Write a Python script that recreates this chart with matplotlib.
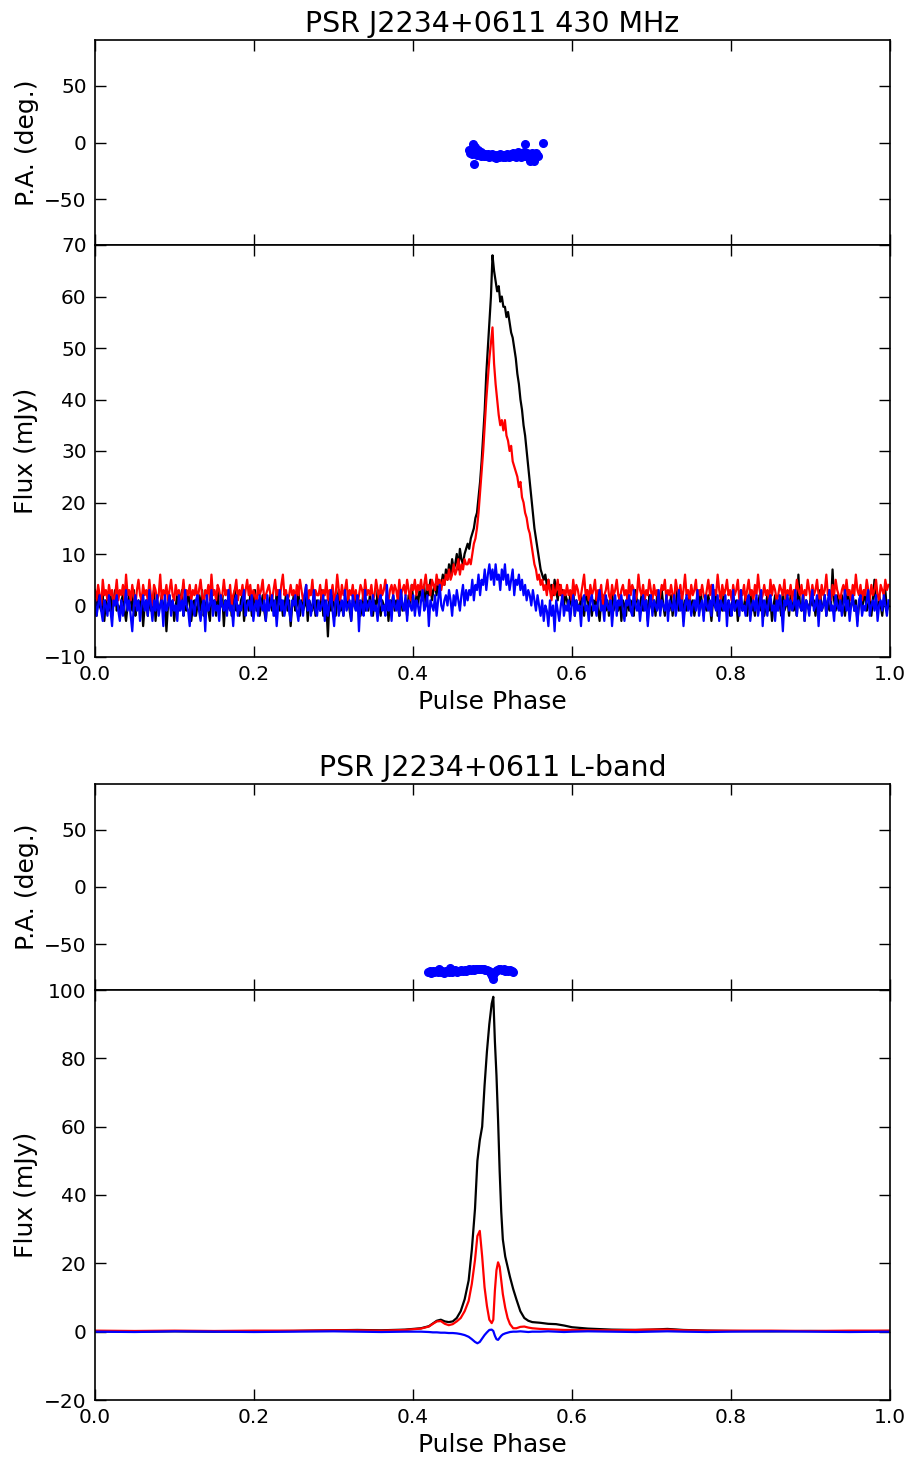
import numpy as np
import matplotlib
matplotlib.use("Agg")
import matplotlib.pyplot as plt

# ---------------- 430 MHz data (512 phase bins) ----------------
I_430 = [
    1, -2, 3, 0, -1, 2, -3, 1, 0, -1, 2, -2, 1, 3, -1, 0,
    -2, 1, 2, -1, -3, 0, 2, 1, -1, 3, -2, 0, 1, -1, 2, -4,
    0, 1, -2, 2, -1, 0, 3, -3, 1, -1, 0, 2, -2, 1, -5, 0,
    2, -1, 1, -3, 0, 2, -1, 1, 3, -2, 0, -1, 2, 1, -3, 0,
    1, -2, 0, 2, -1, 3, -2, 0, 1, -1, -3, 2, 0, 1, -2, 3,
    -1, 0, 2, -4, 1, -1, 0, 2, -2, 1, 3, -1, 0, -2, 1, 2,
    -3, 0, 1, -1, 2, -2, 0, 3, -1, 1, -2, 0, 2, -1, -3, 1,
    0, 2, -1, 1, -2, 3, 0, -1, 1, -2, 0, 2, -1, 1, -4, 0,
    2, -1, 0, 3, -2, 1, -1, 0, 2, -3, 1, 0, -1, 2, -2, 1,
    0, -1, 3, -2, 1, 0, -6, 1, -1, 2, 0, -2, 1, 3, -1, 0,
    -2, 1, 0, 2, -1, -3, 1, 0, 2, -1, 1, -2, 0, 3, -1, 1,
    -1, 2, 0, -2, 1, -1, 3, 0, -2, 1, 0, -1, 2, -3, 1, 0,
    2, -1, 1, 0, -2, 3, -1, 0, 1, -2, 2, 0, 4, 1, -1, 2,
    0, 3, 2, 1, 4, 0, 3, 2, 5, 1, 3, 4, 2, 5, 3, 4,
    6, 4, 7, 5, 8, 6, 9, 7, 8, 10, 7, 11, 9, 8, 10, 11,
    12, 11, 13, 14, 15, 17, 18, 21, 24, 28, 33, 38, 45, 50, 55, 60,
    68, 65, 63, 61, 62, 59, 60, 58, 58, 56, 57, 55, 53, 52, 50, 48,
    45, 43, 40, 38, 35, 33, 30, 27, 24, 21, 18, 15, 13, 11, 9, 7,
    6, 5, 6, 4, 5, 3, 4, 2, 5, 3, 1, 4, 2, 3, 0, 2,
    1, -1, 2, 0, 3, -2, 1, 0, -1, 2, 0, -2, 1, 3, -1, 0,
    -2, 1, 0, 2, -1, -3, 1, 0, 2, -1, 1, -2, 0, 3, -1, 1,
    0, -1, 2, -3, 1, 0, -2, 2, -1, 1, 0, -2, 3, 1, -1, 0,
    2, -1, 0, 1, -3, 2, 0, -1, 1, -2, 2, 0, -1, 3, 0, -2,
    1, 0, -1, 2, -2, 1, 0, 3, -1, 0, 2, -3, 1, -1, 0, 2,
    -1, 1, -2, 0, 2, -1, 3, 0, -2, 1, -1, 2, 0, -3, 1, 0,
    2, -2, 1, 0, -1, 3, -1, 0, 1, -2, 0, 2, -1, 1, -3, 0,
    1, -1, 0, 2, -2, 1, 3, -1, 0, -2, 1, 0, 2, -1, 1, -2,
    0, 2, -1, 1, -3, 0, 2, -1, 1, 0, -2, 3, -1, 0, 1, -2,
    2, 0, -1, 1, -2, 6, 0, -1, 2, -3, 1, 0, -1, 2, 0, 1,
    -2, 1, 0, 3, -1, 0, 2, -2, 1, -1, 0, 7, 1, -1, 2, 0,
    -1, 2, 0, -2, 1, 3, -1, 0, 2, -1, 1, -3, 0, 2, -1, 1,
    3, -1, 0, 2, -2, 1, 5, 0, -1, 2, 0, -2, 1, 3, -1, 0,
]
L_430 = [
    3, 1, 4, 2, 0, 5, 2, 3, 1, 4, 2, 3, 0, 2, 5, 1,
    3, 2, 4, 1, 6, 2, 3, 1, 4, 2, 0, 3, 5, 2, 1, 4,
    2, 3, 1, 5, 2, 0, 4, 3, 1, 2, 6, 1, 3, 2, 4, 1,
    3, 5, 2, 1, 4, 2, 3, 0, 2, 5, 1, 3, 2, 4, 1, 3,
    2, 4, 1, 3, 5, 2, 0, 3, 2, 4, 1, 6, 2, 3, 1, 4,
    3, 1, 2, 5, 2, 3, 1, 4, 0, 2, 3, 5, 1, 3, 2, 4,
    1, 3, 5, 2, 4, 1, 3, 2, 0, 4, 2, 3, 5, 1, 2, 3,
    4, 2, 1, 3, 5, 2, 3, 1, 4, 6, 2, 3, 1, 2, 4, 2,
    3, 1, 4, 2, 5, 3, 1, 2, 4, 0, 3, 2, 5, 1, 3, 2,
    2, 4, 1, 3, 2, 5, 1, 3, 2, 4, 1, 2, 6, 3, 1, 4,
    2, 3, 5, 1, 3, 2, 4, 1, 3, 0, 2, 4, 3, 1, 5, 2,
    3, 2, 4, 1, 2, 5, 3, 1, 4, 2, 3, 5, 2, 1, 3, 4,
    2, 4, 3, 1, 5, 2, 3, 4, 2, 5, 3, 1, 4, 3, 5, 2,
    4, 3, 5, 2, 4, 6, 3, 4, 2, 5, 4, 3, 6, 4, 5, 3,
    5, 4, 6, 5, 7, 5, 6, 8, 6, 7, 9, 6, 8, 7, 9, 8,
    8, 9, 8, 10, 12, 13, 15, 18, 22, 26, 30, 35, 40, 44, 48, 51,
    54, 47, 43, 40, 37, 35, 36, 34, 36, 33, 32, 30, 31, 28, 27, 26,
    25, 23, 24, 21, 20, 18, 17, 15, 14, 12, 10, 8, 7, 5, 6, 4,
    5, 3, 4, 2, 5, 3, 1, 4, 2, 3, 5, 2, 4, 1, 3, 2,
    4, 2, 3, 1, 5, 2, 4, 3, 1, 2, 4, 6, 2, 3, 1, 4,
    2, 3, 5, 1, 3, 2, 4, 0, 2, 3, 5, 2, 1, 4, 2, 3,
    5, 2, 1, 3, 4, 2, 3, 1, 5, 2, 4, 3, 1, 2, 6, 3,
    2, 4, 1, 3, 2, 5, 3, 1, 4, 2, 3, 0, 2, 4, 3, 5,
    1, 3, 2, 4, 2, 1, 5, 3, 2, 4, 1, 3, 6, 2, 3, 1,
    4, 2, 3, 5, 1, 3, 2, 4, 2, 1, 3, 5, 2, 4, 1, 3,
    2, 6, 3, 1, 4, 2, 3, 5, 2, 3, 1, 4, 2, 3, 5, 1,
    3, 2, 4, 1, 3, 5, 2, 3, 1, 4, 2, 6, 3, 1, 2, 4,
    2, 3, 1, 5, 2, 4, 3, 1, 2, 4, 3, 2, 5, 1, 3, 2,
    4, 1, 3, 2, 5, 3, 2, 4, 1, 3, 2, 5, 3, 1, 4, 2,
    3, 5, 2, 1, 4, 2, 3, 6, 2, 3, 1, 4, 2, 5, 3, 2,
    1, 3, 4, 2, 5, 2, 3, 1, 4, 2, 6, 3, 2, 4, 1, 3,
    2, 5, 3, 1, 4, 2, 3, 5, 2, 1, 4, 3, 2, 5, 3, 4,
]
V_430 = [
    1, -2, 0, 2, -1, -3, 1, 0, -2, 2, -1, -4, 1, 0, 2, -1,
    -3, 1, -2, 0, 3, -1, 1, -2, -5, 0, 2, -1, 1, -3, 0, 2,
    -1, 1, -2, 3, 0, -3, 1, -1, 2, -2, 0, 1, -4, 2, -1, 0,
    2, -2, 1, -1, 0, -3, 2, -1, 1, -2, 3, 0, -1, -4, 1, 0,
    -2, 1, 2, -1, -3, 0, 1, -5, 2, -1, 0, 3, -2, 1, -1, 0,
    -3, 2, 0, -1, 1, -2, 3, -1, 0, -4, 1, 2, -2, 0, -1, 1,
    3, -2, 0, 1, -1, 2, -3, 0, 1, -2, 2, 0, -1, 1, -3, 2,
    -1, 0, 2, -2, 1, -4, 0, 3, -1, 1, -2, 0, 2, -1, -3, 1,
    0, 2, -1, -3, 1, 0, -2, 2, 4, -1, 1, -2, 0, 3, -1, -2,
    1, -1, 0, 2, -3, 1, -2, 0, 3, -1, -4, 1, 2, -2, 0, 1,
    -2, 3, -1, 0, 1, -3, 2, 0, -1, 2, -5, 1, 0, -2, 3, -1,
    0, 1, -2, 2, -1, 0, -3, 1, 2, -1, 0, -2, 4, -1, 1, -3,
    2, 0, -1, 1, -2, 3, 0, -1, 2, -3, 1, 0, -1, 2, -2, 1,
    0, -2, 1, 3, -1, 0, 2, -4, 1, 0, -1, 2, -2, 1, 4, 0,
    -1, 1, 2, 0, 3, 1, -2, 2, 0, 3, 1, -1, 2, 4, 0, 3,
    1, 3, 2, 5, 1, 4, 3, 6, 2, 5, 4, 7, 3, 6, 8, 5,
    7, 4, 8, 5, 6, 3, 7, 5, 8, 4, 6, 3, 5, 7, 2, 5,
    4, 6, 3, 5, 2, 4, 1, 3, 2, 0, 3, 1, -1, 2, 0, -2,
    1, -3, 0, -1, -4, 1, -2, 0, -5, 1, -1, -3, 0, 2, -2, 0,
    -1, 1, -3, 0, 2, -2, 1, -1, 0, -4, 1, 2, -1, 0, -3, 1,
    2, -1, 0, -2, 1, 3, -1, 0, -3, 2, 0, -1, 1, -4, 0, 2,
    -2, 1, 0, 2, -1, -3, 1, 0, 2, -1, -2, 3, 0, -1, 1, -3,
    0, 2, -1, 1, -4, 0, 2, -2, 1, 0, -1, 3, -2, 1, 0, -1,
    2, -3, 1, 0, -1, 2, -2, 0, 3, -1, 1, -4, 0, 2, -1, 1,
    -2, 0, 1, -1, 3, -2, 0, 1, -3, 2, 0, -1, 1, -2, 4, 0,
    -1, 2, -3, 1, 0, -1, 2, -4, 1, 0, -2, 3, -1, 0, 1, -2,
    3, -1, 0, -2, 1, 2, -3, 0, 1, -1, 2, -2, 0, 3, -4, 1,
    0, -2, 1, 2, -1, 0, -3, 1, -1, 2, 0, -5, 1, 0, 2, -1,
    1, -1, 0, 3, -2, 1, 0, -1, 2, -3, 1, 0, -2, 1, 3, -1,
    0, 2, -4, 1, -1, 0, 2, -2, 1, 3, -1, 0, -3, 2, 0, -1,
    1, -2, 0, 3, -1, 1, -3, 0, 2, -1, 0, -4, 1, 2, -2, 0,
    -1, 1, 3, -2, 0, 1, -1, 2, -3, 0, 1, -1, 2, 0, -2, 1,
]
pa_phase_430 = [0.471, 0.472, 0.473, 0.474, 0.475, 0.476, 0.477, 0.478, 0.479, 0.480,
                0.481, 0.482, 0.483, 0.484, 0.485, 0.486, 0.487, 0.488, 0.489, 0.490,
                0.491, 0.492, 0.493, 0.494, 0.495, 0.496, 0.497, 0.498, 0.499, 0.500,
                0.501, 0.502, 0.503, 0.504, 0.505, 0.506, 0.507, 0.508, 0.509, 0.510,
                0.511, 0.512, 0.513, 0.514, 0.515, 0.516, 0.517, 0.518, 0.519, 0.520,
                0.521, 0.522, 0.523, 0.524, 0.525, 0.526, 0.527, 0.528, 0.529, 0.530,
                0.531, 0.532, 0.533, 0.534, 0.535, 0.536, 0.537, 0.538, 0.539, 0.540,
                0.541, 0.542, 0.543, 0.544, 0.545, 0.546, 0.547, 0.548, 0.549, 0.550,
                0.551, 0.552, 0.553, 0.554, 0.555, 0.556, 0.557, 0.563]
pa_430 = [-7, -9, -8, -10, -1, -6, -19, -4, -9, -8,
          -11, -7, -10, -9, -12, -8, -11, -10, -12, -11,
          -10, -12, -11, -10, -12, -13, -11, -12, -10, -11,
          -12, -13, -11, -12, -14, -12, -11, -13, -12, -10,
          -12, -11, -13, -12, -11, -13, -12, -10, -11, -12,
          -13, -11, -10, -12, -11, -9, -12, -10, -11, -13,
          -10, -8, -12, -11, -9, -13, -10, -12, -8, -11,
          -1, -12, -10, -9, -13, -11, -16, -10, -12, -9,
          -11, -16, -10, -12, -9, -11, -12, 0]

# ---------------- L-band data ----------------
phase_lb = [0.0, 0.05, 0.1, 0.15, 0.2, 0.25, 0.3, 0.33, 0.36, 0.39,
            0.41, 0.42, 0.425, 0.43, 0.435, 0.44, 0.445, 0.45, 0.455, 0.46,
            0.465, 0.47, 0.474, 0.478, 0.481, 0.484, 0.487, 0.490, 0.493, 0.496,
            0.499, 0.501, 0.503, 0.505, 0.507, 0.509, 0.511, 0.513, 0.516, 0.519,
            0.522, 0.526, 0.530, 0.535, 0.540, 0.545, 0.55, 0.56, 0.57, 0.58,
            0.59, 0.6, 0.62, 0.65, 0.68, 0.7, 0.72, 0.74, 0.77, 0.8,
            0.85, 0.9, 0.95, 1.0]
I_lb = [0.1, 0.0, 0.1, 0.0, 0.1, 0.2, 0.4, 0.5, 0.4, 0.6,
        1.0, 1.6, 2.4, 3.2, 3.5, 3.0, 2.8, 3.0, 4.0, 6.0,
        9.5, 15, 24, 36, 50, 56, 60, 72, 82, 90,
        96, 98, 85, 75, 62, 47, 35, 27, 22, 19,
        16, 12.5, 9.5, 6, 4, 3.2, 2.8, 2.6, 2.3, 2.2,
        1.8, 1.3, 0.9, 0.6, 0.5, 0.6, 0.8, 0.5, 0.3, 0.2,
        0.1, 0.2, 0.1, 0.2]
L_lb = [0.3, 0.2, 0.3, 0.2, 0.3, 0.3, 0.4, 0.4, 0.3, 0.5,
        0.9, 1.5, 2.3, 3.0, 3.1, 2.3, 1.9, 2.2, 3.0, 4.0,
        6.0, 9.0, 14, 21, 28, 29.5, 22, 13, 7.5, 3.5,
        2.5, 3.5, 12, 18, 20.3, 19, 15, 11, 7, 4,
        2.2, 1.0, 1.0, 1.4, 1.5, 1.2, 1.0, 0.8, 0.7, 0.6,
        0.5, 0.5, 0.4, 0.4, 0.5, 0.6, 0.6, 0.4, 0.3, 0.3,
        0.3, 0.2, 0.3, 0.3]
V_lb = [0.0, -0.1, 0.1, 0.0, -0.1, 0.0, 0.1, 0.0, -0.1, 0.0,
        0.0, -0.1, -0.2, -0.2, -0.3, -0.3, -0.4, -0.4, -0.5, -0.7,
        -1.0, -1.5, -2.2, -3.0, -3.4, -3.0, -2.0, -1.0, -0.2, 0.5,
        0.6, 0.2, -1.2, -2.2, -2.4, -1.8, -1.2, -0.8, -0.5, -0.3,
        -0.1, 0.0, 0.0, 0.1, 0.0, -0.1, 0.0, 0.0, 0.1, 0.0,
        -0.1, 0.0, 0.1, 0.0, -0.1, 0.0, 0.1, 0.0, -0.1, 0.0,
        0.1, 0.0, -0.1, 0.0]
pa_phase_lb = [0.419, 0.421, 0.423, 0.425, 0.427, 0.429, 0.431, 0.433, 0.435, 0.437,
               0.439, 0.441, 0.443, 0.445, 0.447, 0.449, 0.451, 0.453, 0.455, 0.457,
               0.459, 0.461, 0.463, 0.465, 0.467, 0.469, 0.471, 0.473, 0.475, 0.477,
               0.479, 0.481, 0.483, 0.485, 0.487, 0.489, 0.491, 0.493, 0.495, 0.497,
               0.498, 0.499, 0.500, 0.501, 0.502, 0.504, 0.506, 0.508, 0.510, 0.512,
               0.514, 0.516, 0.518, 0.520, 0.522, 0.524, 0.526]
pa_lb = [-74, -73, -75, -73.5, -74, -73, -74.5, -72, -74, -73,
         -75, -73.5, -73, -74, -71, -74, -73, -72.5, -74, -73,
         -73.5, -72.5, -73, -72.5, -73, -72.5, -72, -72.5, -72, -72.5,
         -72, -72, -71.5, -72, -72, -72, -72.5, -72.5, -73, -74.5,
         -76, -78, -80, -77, -75, -73, -72.5, -72, -72, -72.5,
         -72, -73, -72.5, -73, -72.5, -73, -74]

titles = ["PSR J2234+0611 430 MHz", "PSR J2234+0611 L-band"]

# ---------------- figure ----------------
plt.rcParams['font.family'] = ['DejaVu Sans']
fig = plt.figure(figsize=(9.13, 14.63), dpi=100, facecolor='white')

L, W = 95 / 913, 795 / 913
def rect(top_px, bot_px):
    return [L, 1 - bot_px / 1463, W, (bot_px - top_px) / 1463]

ax_pa1 = fig.add_axes(rect(40, 245))
ax_f1 = fig.add_axes(rect(245, 657))
ax_pa2 = fig.add_axes(rect(784, 990))
ax_f2 = fig.add_axes(rect(990, 1400))

def style(ax):
    ax.tick_params(direction='in', top=True, right=True, length=8, width=1,
                   labelsize=14.5, pad=6)
    for s in ax.spines.values():
        s.set_linewidth(1.2)
    ax.set_xlim(0, 1)

def phases(vals):
    return np.arange(len(vals)) / len(vals)

lw = 1.6
ax_f1.plot(phases(I_430), I_430, color='k', lw=lw)
ax_f1.plot(phases(L_430), L_430, color='r', lw=lw)
ax_f1.plot(phases(V_430), V_430, color='b', lw=lw)
ax_f1.set_ylim(-10, 70)
ax_f1.set_yticks(np.arange(-10, 71, 10))

ax_pa1.plot(pa_phase_430, pa_430, 'o', color='b', mec='b', ms=5.5)

ax_f2.plot(phase_lb, I_lb, color='k', lw=1.6)
ax_f2.plot(phase_lb, L_lb, color='r', lw=1.6)
ax_f2.plot(phase_lb, V_lb, color='b', lw=1.6)
ax_f2.set_ylim(-20, 100)
ax_f2.set_yticks(np.arange(-20, 101, 20))

ax_pa2.plot(pa_phase_lb, pa_lb, 'o', color='b', mec='b', ms=5.5)

for ax in (ax_pa1, ax_pa2):
    ax.set_ylim(-90, 90)
    ax.set_yticks([-50, 0, 50])
    ax.set_xticks(np.arange(0, 1.01, 0.2))
    ax.tick_params(labelbottom=False)
    ax.set_ylabel("P.A. (deg.)", fontsize=18)

for ax in (ax_f1, ax_f2):
    ax.set_xticks(np.arange(0, 1.01, 0.2))
    ax.set_xlabel("Pulse Phase", fontsize=18)
    ax.set_ylabel("Flux (mJy)", fontsize=18)

for ax in (ax_pa1, ax_f1, ax_pa2, ax_f2):
    style(ax)

ax_pa1.set_title(titles[0], fontsize=20.5, pad=6)
ax_pa2.set_title(titles[1], fontsize=20.5, pad=6)

fig.align_ylabels([ax_pa1, ax_f1])
fig.align_ylabels([ax_pa2, ax_f2])

fig.savefig("out.png", dpi=100, facecolor='white')
